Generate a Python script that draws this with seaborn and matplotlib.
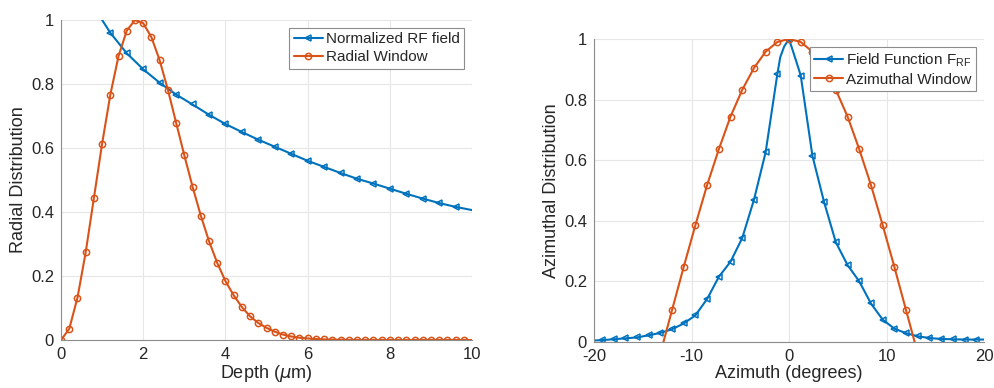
import matplotlib
matplotlib.use("Agg")
import matplotlib.pyplot as plt
import numpy as np
import pandas as pd
import seaborn as sns

# Radial panel data
rf_depth = [1.0, 1.2, 1.6, 2.0, 2.4, 2.8, 3.2, 3.6, 4.0, 4.4, 4.8, 5.2, 5.6, 6.0,
            6.4, 6.8, 7.2, 7.6, 8.0, 8.4, 8.8, 9.2, 9.6, 10.0]
rf_field = [1.0, 0.96, 0.896, 0.846, 0.804, 0.767, 0.736, 0.704, 0.675, 0.650, 0.626,
            0.604, 0.582, 0.560, 0.541, 0.522, 0.504, 0.489, 0.473, 0.457, 0.442,
            0.428, 0.416, 0.406]

win_depth = np.round(np.arange(0, 10.01, 0.2), 1)
radial_window = [0.0, 0.035, 0.132, 0.274, 0.444, 0.614, 0.767, 0.888, 0.967, 1.0,
                 0.99, 0.946, 0.874, 0.782, 0.679, 0.577, 0.479, 0.389, 0.309, 0.241,
                 0.184, 0.14, 0.103, 0.074, 0.053, 0.038, 0.026, 0.017, 0.011, 0.007,
                 0.005, 0.003, 0.002, 0.001, 0.001,
                 0, 0, 0, 0, 0, 0, 0, 0, 0, 0, 0, 0, 0, 0, 0, 0]

# Azimuthal panel data
field_az = [-20.0, -19.2, -18.0, -16.8, -15.6, -14.4, -13.2, -12.0, -10.8, -9.6, -8.4,
            -7.2, -6.0, -4.8, -3.6, -2.4, -1.2, -0.9, -0.5, 0.0, 0.5, 0.9, 1.2, 2.4,
            3.6, 4.8, 6.0, 7.2, 8.4, 9.6, 10.8, 12.0, 13.2, 14.4, 15.6, 16.8, 18.0,
            19.2, 20.0]
field_func = [0.005, 0.006, 0.009, 0.012, 0.015, 0.022, 0.030, 0.042, 0.061, 0.088,
              0.142, 0.215, 0.265, 0.343, 0.469, 0.626, 0.884, 0.94, 0.975, 1.0,
              0.95, 0.91, 0.879, 0.614, 0.461, 0.329, 0.254, 0.20, 0.127, 0.074,
              0.044, 0.029, 0.019, 0.013, 0.010, 0.009, 0.008, 0.008, 0.008]
field_marks = [i for i, a in enumerate(field_az) if a not in (-20.0, -0.9, -0.5, 0.5, 0.9, 20.0)]

win_az = [-13.2, -12.0, -10.8, -9.6, -8.4, -7.2, -6.0, -4.8, -3.6, -2.4, -1.2, 0.0,
          1.2, 2.4, 3.6, 4.8, 6.0, 7.2, 8.4, 9.6, 10.8, 12.0, 13.2]
az_window = [-0.038, 0.105, 0.248, 0.386, 0.518, 0.636, 0.744, 0.832, 0.904, 0.958,
             0.99, 1.0, 0.99, 0.958, 0.904, 0.832, 0.744, 0.636, 0.518, 0.386, 0.248,
             0.105, -0.038]

yticks = [0, 0.2, 0.4, 0.6, 0.8, 1]
ytick_labels = ["0", "0.2", "0.4", "0.6", "0.8", "1"]

blue = "#0072BD"
red = "#D95319"

sns.set_style("white")
plt.rcParams["font.family"] = ["Liberation Sans", "DejaVu Sans"]
plt.rcParams["mathtext.fontset"] = "custom"
plt.rcParams["mathtext.rm"] = "Liberation Sans"
plt.rcParams["mathtext.it"] = "DejaVu Sans:italic"
plt.rcParams["axes.unicode_minus"] = False

fig = plt.figure(figsize=(9.94, 3.88), dpi=100)
ax1 = fig.add_axes([0.0614, 0.1237, 0.4135, 0.8247])
ax2 = fig.add_axes([0.5976, 0.1186, 0.3924, 0.781])

line_kw = dict(linewidth=1.5, markersize=4.5, markerfacecolor="none", markeredgewidth=1.1)

# left panel
sns.lineplot(x=rf_depth, y=rf_field, ax=ax1, color=blue, marker="<",
             markevery=list(range(1, len(rf_depth) - 1)), label="Normalized RF field",
             markeredgecolor=blue, **line_kw)
sns.lineplot(x=win_depth, y=radial_window, ax=ax1, color=red, marker="o",
             markevery=list(range(0, len(win_depth) - 1)), label="Radial Window",
             markeredgecolor=red, **line_kw)
ax1.set_xlim(0, 10)
ax1.set_xticks([0, 2, 4, 6, 8, 10])
ax1.set_xlabel(r"Depth ($\mu$m)", fontsize=13, labelpad=1)
ax1.set_ylabel("Radial Distribution", fontsize=13, labelpad=3)

# right panel
sns.lineplot(x=field_az, y=field_func, ax=ax2, color=blue, marker="<",
             markevery=field_marks, label=r"Field Function F$_{\mathrm{RF}}$",
             markeredgecolor=blue, **line_kw)
sns.lineplot(x=win_az, y=az_window, ax=ax2, color=red, marker="o",
             markevery=list(range(1, len(win_az) - 1)), label="Azimuthal Window",
             markeredgecolor=red, **line_kw)
ax2.set_xlim(-20, 20)
ax2.set_xticks([-20, -10, 0, 10, 20])
ax2.set_xlabel("Azimuth (degrees)", fontsize=13, labelpad=1)
ax2.set_ylabel("Azimuthal Distribution", fontsize=13, labelpad=3)

for ax in (ax1, ax2):
    ax.set_ylim(0, 1)
    ax.set_yticks(yticks)
    ax.set_yticklabels(ytick_labels)
    ax.grid(True, color="#e6e6e6", linewidth=0.8)
    ax.set_axisbelow(True)
    for s in ("top", "right"):
        ax.spines[s].set_visible(False)
    for s in ("left", "bottom"):
        ax.spines[s].set_color("#8c8c8c")
        ax.spines[s].set_linewidth(0.8)
    ax.tick_params(direction="in", length=3, width=0.6, color="#8c8c8c",
                   labelsize=12, labelcolor="#262626")
    ax.tick_params(axis="x", pad=5)
    ax.tick_params(axis="y", pad=5)
    ax.xaxis.label.set_color("#262626")
    ax.yaxis.label.set_color("#262626")
    leg = ax.legend(loc="upper right", fontsize=11, frameon=True, fancybox=False,
                    framealpha=1, edgecolor="#8c8c8c", borderpad=0.3,
                    handlelength=1.9, handletextpad=0.2, labelspacing=0.25,
                    borderaxespad=0.5)
    leg.get_frame().set_linewidth(0.8)
    leg.set_zorder(5)

fig.savefig("out.png", dpi=100)
